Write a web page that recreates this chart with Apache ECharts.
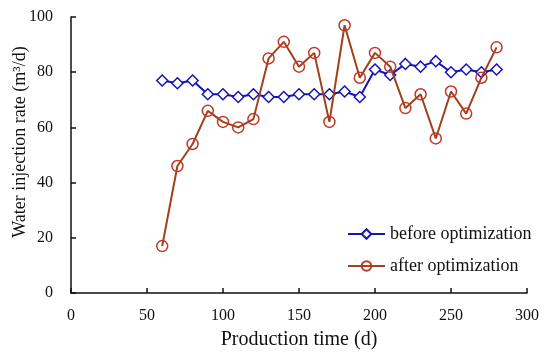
<!DOCTYPE html>
<html><head><meta charset="utf-8">
<script src="https://cdn.jsdelivr.net/npm/echarts@6/dist/echarts.min.js"></script>
<style>html,body{margin:0;padding:0;background:#fff}#c{width:550px;height:356px}</style>
</head><body><div id="c"></div>
<script>
const days = [60,70,80,90,100,110,120,130,140,150,160,170,180,190,200,210,220,230,240,250,260,270,280];
const beforeOpt = [77,76,77,72,72,71,72,71,71,72,72,72,73,71,81,79,83,82,84,80,81,80,81];
const afterOpt = [17,46,54,66,62,60,63,85,91,82,87,62,97,78,87,82,67,72,56,73,65,78,89];
const xTicks = [0,50,100,150,200,250,300];
const yTicks = [0,20,40,60,80,100];
const font = 'Liberation Serif';
const chart = echarts.init(document.getElementById('c'));
chart.setOption({
  animation:false,
  grid:{left:71,right:23,top:17,bottom:63,containLabel:false,outerBoundsMode:'none'},
  legend:{
    orient:'vertical', left:342, top:220, itemGap:14, itemWidth:37, itemHeight:12,
    textStyle:{fontFamily:font,fontSize:18,color:'#111'},
    data:['before optimization','after optimization']
  },
  xAxis:{
    type:'value', min:0, max:300, interval:50,
    name:'Production time (d)', nameLocation:'middle', nameGap:37,
    nameTextStyle:{fontFamily:font,fontSize:20,color:'#111'},
    axisLine:{lineStyle:{color:'#111',width:1.5}},
    axisTick:{inside:true,length:5,lineStyle:{color:'#111',width:1.5}},
    axisLabel:{fontFamily:font,fontSize:16,color:'#111',margin:15},
    splitLine:{show:false}
  },
  yAxis:{
    type:'value', min:0, max:100, interval:20,
    name:'Water injection rate (m³/d)', nameLocation:'middle', nameGap:42, nameMoveOverlap:false,
    nameTextStyle:{fontFamily:font,fontSize:18,color:'#111',padding:[0,0,0,26]},
    axisLine:{show:true,lineStyle:{color:'#111',width:1.5}},
    axisTick:{show:true,inside:true,length:5,lineStyle:{color:'#111',width:1.5}},
    axisLabel:{fontFamily:font,fontSize:16,color:'#111',margin:18},
    splitLine:{show:false}
  },
  series:[
    {name:'before optimization', type:'line', data:days.map((d,i)=>[d,beforeOpt[i]]),
     symbol:'diamond', symbolSize:[11,11], showAllSymbol:true,
     lineStyle:{color:'#1515b5',width:2},
     itemStyle:{color:'#fff',borderColor:'#1515b5',borderWidth:1.5}, z:2},
    {name:'after optimization', type:'line', data:days.map((d,i)=>[d,afterOpt[i]]),
     symbol:'circle', symbolSize:11, showAllSymbol:true,
     lineStyle:{color:'#a0401c',width:2},
     itemStyle:{color:'rgba(255,255,255,0)',borderColor:'#c03828',borderWidth:1.5}, z:3}
  ]
});
</script></body></html>
